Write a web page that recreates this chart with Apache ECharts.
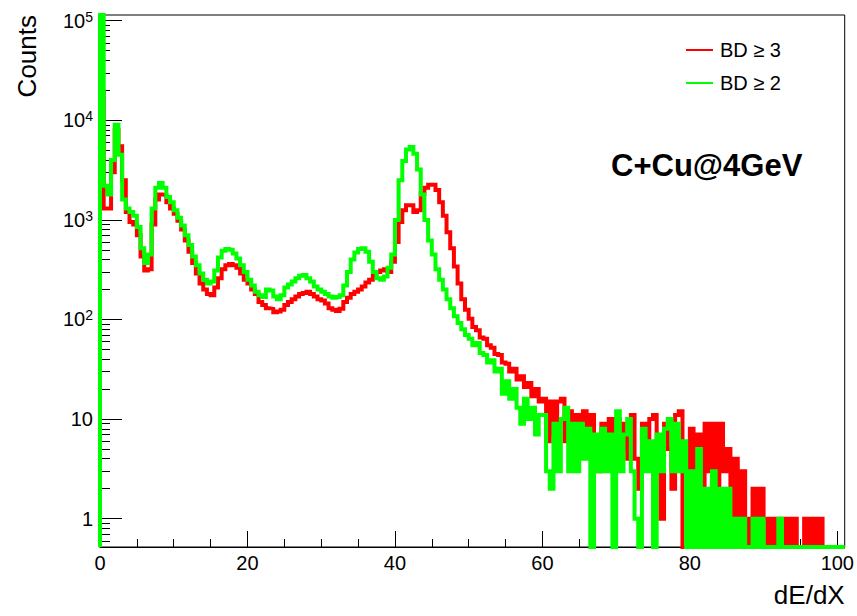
<!DOCTYPE html>
<html>
<head>
<meta charset="utf-8">
<script src="https://cdn.jsdelivr.net/npm/echarts@6/dist/echarts.min.js"></script>
<style>html,body{margin:0;padding:0;background:#fff}#c{width:857px;height:616px}</style>
</head>
<body>
<div id="c"></div>
<script>
// ---- data (histogram counts, bin width 0.5 in dE/dX, starting at 0) ----
const binStart = 0;
const binWidth = 0.5;

const seriesNames = ['BD \u2265 3', 'BD \u2265 2'];

// BD >= 3 (red)
const countsBD3 = [
  19500, 1300, 1300, 3000, 8000, 5500, 2500, 1200, 950, 900,
  700, 430, 310, 320, 900, 1600, 1800, 1780, 1500, 1300,
  1150, 980, 800, 620, 480, 370, 290, 230, 200, 180,
  175, 210, 260, 320, 350, 360, 350, 330, 290, 250,
  230, 200, 180, 150, 140, 130, 128, 118, 120, 125,
  140, 150, 160, 170, 180, 185, 190, 180, 170, 160,
  155, 145, 130, 125, 122, 128, 150, 165, 180, 190,
  200, 215, 235, 250, 275, 300, 310, 320, 300, 380,
  600, 950, 1250, 1400, 1400, 1200, 1250, 1850, 2100, 2250,
  2250, 2000, 1500, 1100, 750, 520, 340, 230, 160, 125,
  102, 84, 78, 66, 64, 55, 52, 45, 44, 37,
  36, 30, 32, 25, 27, 21, 23, 17, 20, 15,
  16, 6, 15, 7, 15, 16, 6, 12, 5, 11,
  5, 12, 6, 11, 5, 3, 9, 4, 10, 4,
  10, 5, 9, 4, 11, 4, 2, 9, 5, 10,
  11, 5, 1, 9, 5, 2, 11, 12, 0, 0,
  8, 2, 7, 2, 9, 3, 9, 2, 9, 3,
  5, 1, 4, 1, 3, 1, 0, 2, 0, 2,
  1, 0, 1, 0, 1, 0, 1, 0, 1, 0,
  0, 1, 0, 1, 0, 1, 0, 0, 0, 0,
  0, 0
];

// BD >= 2 (green)
const countsBD2 = [
  300000, 2200, 1800, 4000, 9000, 4500, 1600, 1300, 1200, 1100,
  850, 520, 370, 450, 1300, 2100, 2340, 2100, 1700, 1500,
  1250, 1050, 880, 700, 560, 430, 350, 290, 250, 230,
  240, 310, 420, 490, 510, 500, 460, 410, 350, 300,
  250, 220, 190, 175, 168, 200, 195, 170, 160, 175,
  210, 225, 240, 260, 275, 280, 260, 240, 215, 200,
  190, 180, 170, 165, 168, 175, 220, 300, 400, 470,
  510, 520, 480, 380, 300, 260, 250, 270, 330, 450,
  1000, 2500, 3900, 5100, 5400, 4600, 3200, 1800, 1000, 620,
  450, 320, 250, 200, 160, 130, 108, 92, 80, 70,
  64, 55, 58, 46, 44, 37, 39, 30, 32, 18,
  24, 16, 20, 13, 9, 16, 10, 13, 7, 11,
  11, 3, 2, 9, 3, 10, 13, 3, 9, 3,
  9, 4, 8, 0, 7, 3, 8, 3, 7, 0,
  12, 3, 7, 10, 3, 1, 0, 8, 3, 6,
  0, 7, 3, 8, 10, 3, 9, 3, 6, 0,
  3, 0, 5, 0, 2, 0, 3, 0, 2, 0,
  2, 0, 1, 0, 1, 0, 0, 1, 0, 1,
  0, 0, 0, 0, 1, 0, 0, 0, 0, 0,
  0, 0, 0, 0, 0, 0, 0, 0, 0, 0,
  0, 0
];

// axis ticks
const xMajorTicks = [0, 20, 40, 60, 80, 100];
const xMinorTicks = [5, 10, 15, 25, 30, 35, 45, 50, 55, 65, 70, 75, 85, 90, 95];
const yMajorTicks = [1, 10, 100, 1000, 10000, 100000];
const yMinorTicks = [0.6, 0.7, 0.8, 0.9,
  2, 3, 4, 5, 6, 7, 8, 9,
  20, 30, 40, 50, 60, 70, 80, 90,
  200, 300, 400, 500, 600, 700, 800, 900,
  2000, 3000, 4000, 5000, 6000, 7000, 8000, 9000,
  20000, 30000, 40000, 50000, 60000, 70000, 80000, 90000];

const X_MIN = 0, X_MAX = 101;
const Y_MIN = 0.52, Y_MAX = 114000;

const colors = ['#ff0000', '#00ff00'];
const FONT = 'Liberation Sans, Arial, Helvetica, sans-serif';

// step-histogram outline (empty bins sit on the frame bottom, as in ROOT)
function histPoints(counts) {
  const pts = [[binStart, Y_MIN]];
  counts.forEach(function (c, i) {
    pts.push([binStart + i * binWidth, c > 0 ? c : Y_MIN]);
  });
  const last = counts[counts.length - 1];
  pts.push([binStart + counts.length * binWidth, last > 0 ? last : Y_MIN]);
  return pts;
}

const supDigits = {100: '2', 1000: '3', 10000: '4', 100000: '5'};

const chart = echarts.init(document.getElementById('c'), null, {renderer: 'svg'});
chart.setOption({
  animation: false,
  backgroundColor: '#ffffff',
  grid: {left: 100, right: 11, top: 15, bottom: 69, show: true, borderColor: '#000', borderWidth: 1, backgroundColor: 'transparent'},
  title: {
    text: 'C+Cu@4GeV', left: 611, top: 150, padding: 0,
    textStyle: {fontSize: 31, fontWeight: 'bold', color: '#000', fontFamily: FONT}
  },
  legend: {
    data: seriesNames, orient: 'vertical', left: 686, top: 40, padding: 0,
    itemWidth: 27, itemHeight: 2, itemGap: 13, icon: 'rect',
    selectedMode: false,
    textStyle: {fontSize: 20, color: '#000', fontFamily: FONT, padding: [0, 0, 0, 2]}
  },
  xAxis: [
    {
      type: 'value', min: X_MIN, max: X_MAX, position: 'bottom',
      name: 'dE/dX', nameLocation: 'end', nameGap: 0,
      nameTextStyle: {fontSize: 26, color: '#000', fontFamily: FONT, align: 'right', verticalAlign: 'top', padding: [35, 0, 0, 0]},
      axisLine: {show: true, lineStyle: {color: '#000', width: 1}},
      axisTick: {show: true, inside: true, length: 16, customValues: xMajorTicks, lineStyle: {color: '#000', width: 1}},
      axisLabel: {show: true, customValues: xMajorTicks, fontSize: 20, color: '#000', fontFamily: FONT, margin: 6},
      splitLine: {show: false}
    },
    {
      type: 'value', min: X_MIN, max: X_MAX, position: 'bottom',
      axisLine: {show: false},
      axisTick: {show: true, inside: true, length: 8, customValues: xMinorTicks, lineStyle: {color: '#000', width: 1}},
      axisLabel: {show: false},
      splitLine: {show: false}
    }
  ],
  yAxis: [
    {
      type: 'log', logBase: 10, min: Y_MIN, max: Y_MAX, position: 'left',
      axisLine: {show: true, lineStyle: {color: '#000', width: 1}},
      axisTick: {show: true, inside: true, length: 22, customValues: yMajorTicks, lineStyle: {color: '#000', width: 1}},
      axisLabel: {
        show: true, customValues: yMajorTicks, margin: 7, color: '#000', fontSize: 20, fontFamily: FONT,
        formatter: function (v) {
          const r = Math.round(v);
          if (r === 1) return '1';
          if (r === 10) return '10';
          return '10{e|' + supDigits[r] + '}';
        },
        rich: {e: {fontSize: 14, color: '#000', fontFamily: FONT, verticalAlign: 'top', padding: [0, 0, 8, 0]}}
      },
      splitLine: {show: false},
      name: 'Counts', nameLocation: 'end', nameGap: 0, nameRotate: 90,
      nameTextStyle: {fontSize: 26, color: '#000', fontFamily: FONT, align: 'right', verticalAlign: 'bottom', padding: [0, 0, 60, 0]}
    },
    {
      type: 'log', logBase: 10, min: Y_MIN, max: Y_MAX, position: 'left',
      axisLine: {show: false},
      axisTick: {show: true, inside: true, length: 10, customValues: yMinorTicks, lineStyle: {color: '#000', width: 1}},
      axisLabel: {show: false},
      splitLine: {show: false}
    }
  ],
  series: [
    {
      name: seriesNames[0], type: 'line', step: 'end', data: histPoints(countsBD3),
      xAxisIndex: 0, yAxisIndex: 0, symbol: 'none', showSymbol: false, clip: true,
      lineStyle: {color: colors[0], width: 4, join: 'miter'}, itemStyle: {color: colors[0]}, z: 2
    },
    {
      name: seriesNames[1], type: 'line', step: 'end', data: histPoints(countsBD2),
      xAxisIndex: 0, yAxisIndex: 0, symbol: 'none', showSymbol: false, clip: true,
      lineStyle: {color: colors[1], width: 4, join: 'miter'}, itemStyle: {color: colors[1]}, z: 3
    }
  ]
});
</script>
</body>
</html>
